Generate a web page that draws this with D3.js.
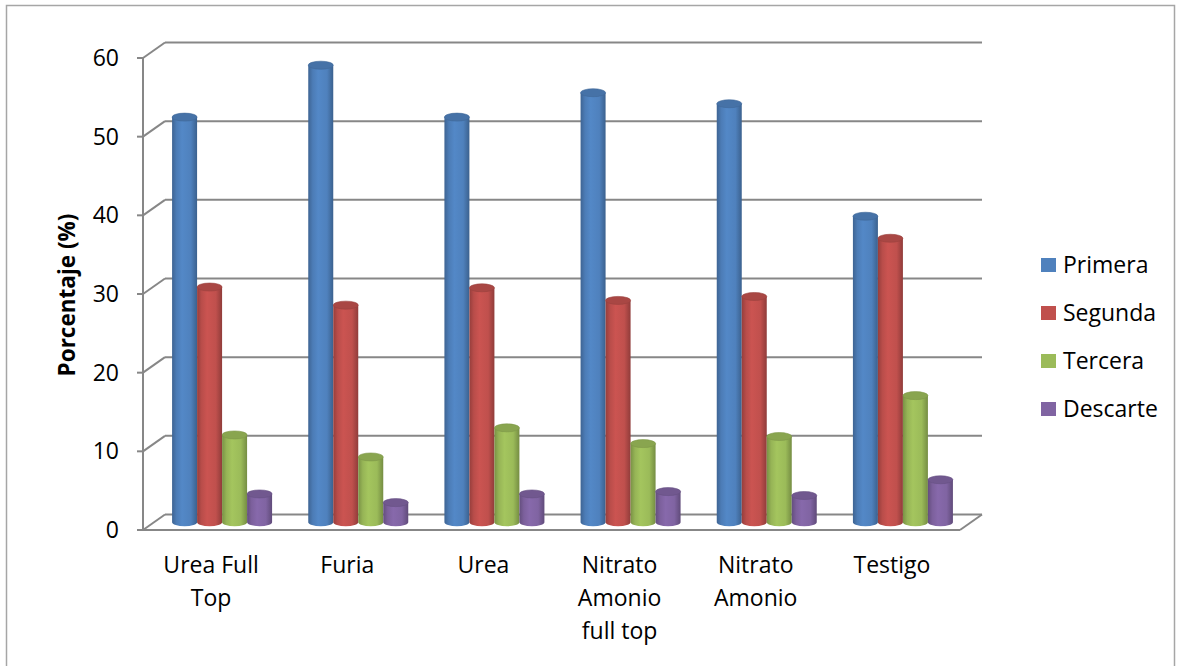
<!DOCTYPE html>
<html>
<head>
<meta charset="utf-8">
<script src="https://cdn.jsdelivr.net/npm/d3@7"></script>
<style>
  html, body { margin: 0; padding: 0; background: #fff; }
  svg { display: block; font-family: "Open Sans", "Noto Sans", sans-serif; }
</style>
</head>
<body>
<svg id="chart" width="1182" height="666"></svg>
<script>
// Categories (multi-line labels) and series values, in %
const categories = ["Urea Full Top", "Furia", "Urea", "Nitrato Amonio full top", "Nitrato Amonio", "Testigo"];
const categoryLines = [["Urea Full", "Top"], ["Furia"], ["Urea"], ["Nitrato", "Amonio", "full top"], ["Nitrato", "Amonio"], ["Testigo"]];
const seriesNames = ["Primera", "Segunda", "Tercera", "Descarte"];
const primera  = [51.5, 58.1, 51.5, 54.6, 53.2, 38.9];
const segunda  = [29.9, 27.6, 29.8, 28.2, 28.7, 36.1];
const tercera  = [11.1, 8.3, 12.0, 10.0, 10.9, 16.1];
const descarte = [3.6, 2.5, 3.6, 3.9, 3.4, 5.4];
const yTicks = [0, 10, 20, 30, 40, 50, 60];
const colors = ["#4F81BD", "#C0504D", "#9BBB59", "#8064A2"];

const seriesValues = [primera, segunda, tercera, descarte];

const svg = d3.select("#chart");

// Outer chart-area border
svg.append("rect")
  .attr("x", 6.5).attr("y", 5.5).attr("width", 1168).attr("height", 700)
  .attr("fill", "none").attr("stroke", "#a6a6a6").attr("stroke-width", 1.5);

// Front plane geometry plus depth offset for the 3D walls
const x0 = 143, x1 = 960;
const depthX = 22, depthY = -15.5;
const yFront = d3.scaleLinear().domain([0, 60]).range([530, 58]);
const yBack = v => yFront(v) + depthY;
const yMid = v => yFront(v) + depthY / 2;

const xBand = d3.scaleBand().domain(categories).range([x0, x1]).paddingInner(0).paddingOuter(0);
const barW = 25;
const xSeries = d3.scaleBand().domain(seriesNames).range([0, barW * 4]);

const gridColor = "#878787";
const walls = svg.append("g").attr("stroke", gridColor).attr("stroke-width", 2).attr("fill", "none");

// Back-wall gridlines and side-wall diagonals
yTicks.forEach(v => {
  walls.append("line")
    .attr("x1", x0 + depthX).attr("x2", x1 + depthX)
    .attr("y1", yBack(v)).attr("y2", yBack(v));
  walls.append("line")
    .attr("x1", x0).attr("y1", yFront(v))
    .attr("x2", x0 + depthX).attr("y2", yBack(v));
  walls.append("line")
    .attr("x1", x0 - 6).attr("x2", x0)
    .attr("y1", yFront(v)).attr("y2", yFront(v));
});
// Vertical axis line
walls.append("line").attr("x1", x0).attr("x2", x0).attr("y1", yFront(60)).attr("y2", yFront(0));
// Floor front edge and right edge
walls.append("line").attr("x1", x0).attr("x2", x1).attr("y1", yFront(0)).attr("y2", yFront(0));
walls.append("line").attr("x1", x1).attr("y1", yFront(0)).attr("x2", x1 + depthX).attr("y2", yBack(0));

// Y tick labels
svg.append("g").selectAll("text").data(yTicks).join("text")
  .attr("x", x0 - 24).attr("y", d => yFront(d))
  .attr("dy", "0.35em").attr("text-anchor", "end")
  .attr("font-size", 23).attr("fill", "#000")
  .text(d => d);

// Y axis title
svg.append("text")
  .attr("transform", "translate(75,295) rotate(-90)")
  .attr("text-anchor", "middle")
  .attr("font-size", 22.5).attr("font-weight", "bold").attr("fill", "#000")
  .text("Porcentaje (%)");

// Category labels
const catG = svg.append("g");
categories.forEach((c, i) => {
  const cx = xBand(c) + xBand.bandwidth() / 2;
  const t = catG.append("text").attr("text-anchor", "middle")
    .attr("font-size", 23).attr("fill", "#000");
  categoryLines[i].forEach((ln, j) => {
    t.append("tspan").attr("x", cx).attr("y", 573 + j * 33).text(ln);
  });
});

// Cylinder gradients
const defs = svg.append("defs");
colors.forEach((c, i) => {
  const base = d3.color(c);
  const g = defs.append("linearGradient").attr("id", "cyl" + i)
    .attr("x1", "0%").attr("x2", "100%").attr("y1", "0%").attr("y2", "0%");
  g.append("stop").attr("offset", "0%").attr("stop-color", base.darker(0.7));
  g.append("stop").attr("offset", "18%").attr("stop-color", base.darker(0.1));
  g.append("stop").attr("offset", "40%").attr("stop-color", base.brighter(0.15));
  g.append("stop").attr("offset", "75%").attr("stop-color", base);
  g.append("stop").attr("offset", "100%").attr("stop-color", base.darker(0.8));
});

// Cylinders
const ry = 4;
const barsG = svg.append("g");
categories.forEach((c, ci) => {
  seriesNames.forEach((s, si) => {
    const v = seriesValues[si][ci];
    const left = xBand(c) + depthX / 2 + (xBand.bandwidth() - barW * 4) / 2 + xSeries(s);
    const cx = left + barW / 2;
    const yTop = yMid(v), yBot = yMid(0);
    const rx = barW / 2;
    const g = barsG.append("g");
    // body with rounded bottom
    g.append("path")
      .attr("d", `M${left},${yTop} L${left},${yBot} A${rx},${ry} 0 0 0 ${left + barW},${yBot} L${left + barW},${yTop} Z`)
      .attr("fill", `url(#cyl${si})`);
    // top cap
    g.append("ellipse")
      .attr("cx", cx).attr("cy", yTop).attr("rx", rx).attr("ry", ry)
      .attr("fill", d3.color(colors[si]).darker(0.35))
      .attr("stroke", d3.color(colors[si]).darker(0.6)).attr("stroke-width", 0.6);
  });
});

// Legend
const legend = svg.append("g");
seriesNames.forEach((s, i) => {
  const y = 265 + i * 48;
  legend.append("rect").attr("x", 1041).attr("y", y - 7).attr("width", 15).attr("height", 14)
    .attr("fill", colors[i]);
  legend.append("text").attr("x", 1063).attr("y", y).attr("dy", "0.35em")
    .attr("font-size", 23).attr("fill", "#000").text(s);
});
</script>
</body>
</html>
